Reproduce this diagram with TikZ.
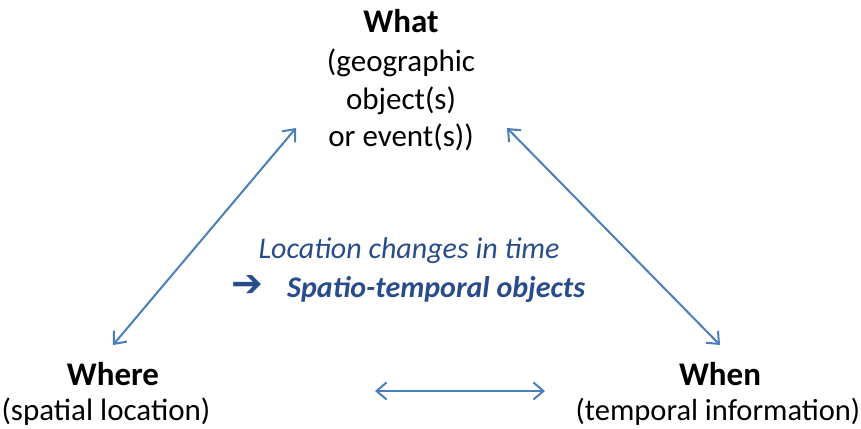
\documentclass[tikz,border=0pt]{standalone}
\usepackage{fontspec}
\setmainfont{Carlito}
\newfontfamily\symfont{DejaVu Sans}
\usetikzlibrary{arrows.meta}
\definecolor{linkblue}{RGB}{74,126,187}
\definecolor{noteblue}{RGB}{40,76,138}
\tikzset{
  label text/.style={font=\fontsize{31}{38}\selectfont, inner sep=0pt, anchor=base},
  head text/.style={font=\fontsize{33}{38}\selectfont\bfseries, inner sep=0pt, anchor=base},
  link/.style={draw=linkblue, line width=2pt,
    {Straight Barb[length=10pt,width=17pt,line width=2pt]}-{Straight Barb[length=10pt,width=17pt,line width=2pt]}},
  note/.style={font=\fontsize{30}{38}\selectfont\itshape, text=noteblue, inner sep=0pt, anchor=base}
}
\begin{document}
\begin{tikzpicture}[x=1pt,y=-1pt]
  \useasboundingbox (0,0) rectangle (861,428);

  % the three corners
  \node[head text] (what) at (401,33) {What};
  \node[label text] (whata) at (401,71) {(geographic};
  \node[label text] (whatb) at (401,109) {object(s)};
  \node[label text] (whatc) at (401,146) {or event(s))};
  \node[head text] (where) at (113,385) {Where};
  \node[label text] (wheresub) at (106,420) {(spatial location)};
  \node[head text] (when) at (720,385) {When};
  \node[label text, font=\fontsize{30.5}{38}\selectfont] (whensub) at (718,420) {(temporal information)};

  % central note
  \node[note] (change) at (409,258) {Location changes in time};
  \node[note, anchor=base west, font=\fontsize{30}{38}\selectfont\bfseries\itshape] (st) at (287,297) {Spatio-temporal objects};
  \node[anchor=base, inner sep=0pt, text=noteblue, font=\fontsize{38}{40}\selectfont\symfont\bfseries] (pointer) at (247,296) {➔};

  % arrow end points
  \coordinate (wa) at (113,345);
  \coordinate (wb) at (296,128);
  \coordinate (na) at (507,128);
  \coordinate (nb) at (720,345);
  \coordinate (ha) at (375,391);
  \coordinate (hb) at (545,391);

  \draw[link] (wa) -- (wb);
  \draw[link] (na) -- (nb);
  \draw[link] (ha) -- (hb);
\end{tikzpicture}
\end{document}
